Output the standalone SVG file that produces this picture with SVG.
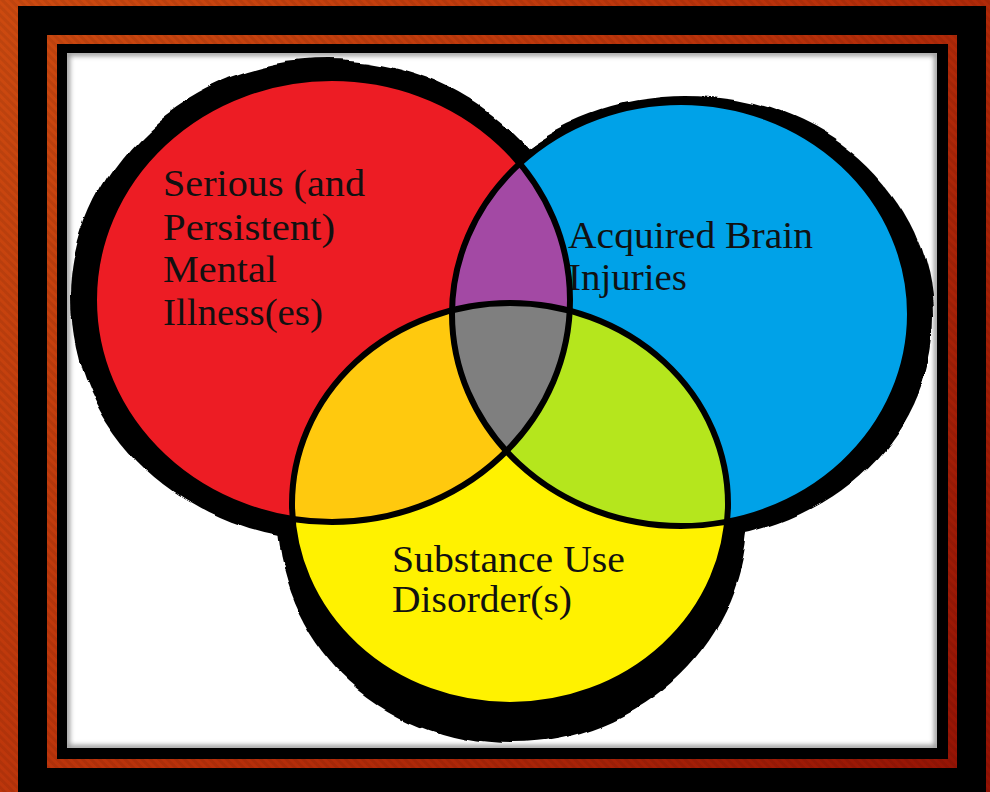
<svg xmlns="http://www.w3.org/2000/svg" width="990" height="792" viewBox="0 0 990 792">
  <defs>
    <linearGradient id="bgGrad" gradientUnits="userSpaceOnUse" x1="0" y1="0" x2="990" y2="792">
      <stop offset="0" stop-color="#cc4a10"/>
      <stop offset="0.5" stop-color="#b8300a"/>
      <stop offset="1" stop-color="#941204"/>
    </linearGradient>
    <pattern id="stripes" width="6" height="6" patternUnits="userSpaceOnUse" patternTransform="rotate(-45)">
      <rect x="0" y="0" width="3" height="6" fill="#000" opacity="0.07"/>
    </pattern>
    <filter id="rough" x="-10%" y="-10%" width="120%" height="120%">
      <feTurbulence type="fractalNoise" baseFrequency="0.012" numOctaves="2" seed="5"/>
      <feDisplacementMap in="SourceGraphic" scale="14" xChannelSelector="R" yChannelSelector="G"/>
    </filter>
    <filter id="blur3" x="-5%" y="-5%" width="110%" height="110%">
      <feGaussianBlur stdDeviation="2.5"/>
    </filter>
    <clipPath id="clipWhite"><rect x="67" y="53" width="870" height="695"/></clipPath>
    <clipPath id="clipRed"><ellipse cx="332" cy="300" rx="238" ry="222"/></clipPath>
    <clipPath id="clipBlue"><ellipse cx="681" cy="314" rx="229" ry="212"/></clipPath>
    <clipPath id="clipYellow"><ellipse cx="510" cy="504" rx="218" ry="201"/></clipPath>
    <style>
      .lbl { font-family: "Liberation Serif", "DejaVu Serif", serif; font-size: 37px; fill: #111; }
      .ol { fill: none; stroke: #000; stroke-width: 6; }
      .shadow { fill: #000; }
    </style>
  </defs>

  <g id="frame">
    <rect x="0" y="0" width="990" height="792" fill="url(#bgGrad)"/>
    <rect x="0" y="0" width="990" height="792" fill="url(#stripes)"/>
    <rect x="18" y="6" width="968" height="800" fill="#000"/>
    <rect x="47" y="35" width="910" height="733" fill="url(#bgGrad)"/>
    <rect x="47" y="35" width="910" height="733" fill="url(#stripes)"/>
    <rect x="57" y="44" width="891" height="715" fill="#000"/>
    <rect x="67" y="53" width="870" height="695" fill="#fff"/>
    <g clip-path="url(#clipWhite)">
      <rect x="67" y="53" width="870" height="695" fill="none" stroke="#999" stroke-width="6" filter="url(#blur3)"/>
    </g>
  </g>

  <g id="shadows" clip-path="url(#clipWhite)">
    <g filter="url(#rough)">
      <ellipse class="shadow" cx="328" cy="300" rx="258" ry="241"/>
      <ellipse class="shadow" cx="685" cy="318" rx="248" ry="222"/>
      <ellipse class="shadow" cx="511" cy="510" rx="237" ry="233"/>
    </g>
  </g>

  <g id="set-mental-illness">
    <ellipse cx="332" cy="300" rx="238" ry="222" fill="#ed1c24"/>
  </g>
  <g id="set-brain-injuries">
    <ellipse cx="681" cy="314" rx="229" ry="212" fill="#00a2e8"/>
  </g>
  <g id="set-substance-use">
    <ellipse cx="510" cy="504" rx="218" ry="201" fill="#fff200"/>
  </g>

  <g id="overlap-red-blue" clip-path="url(#clipRed)">
    <ellipse cx="681" cy="314" rx="229" ry="212" fill="#a349a4"/>
  </g>
  <g id="overlap-red-yellow" clip-path="url(#clipRed)">
    <ellipse cx="510" cy="504" rx="218" ry="201" fill="#ffc90e"/>
  </g>
  <g id="overlap-blue-yellow" clip-path="url(#clipBlue)">
    <ellipse cx="510" cy="504" rx="218" ry="201" fill="#b5e61d"/>
  </g>
  <g id="overlap-all" clip-path="url(#clipRed)">
    <g clip-path="url(#clipBlue)">
      <ellipse cx="510" cy="504" rx="218" ry="201" fill="#7f7f7f"/>
    </g>
  </g>

  <g id="labels">
    <text class="lbl" x="163" y="196" textLength="202" lengthAdjust="spacingAndGlyphs">Serious (and</text>
    <text class="lbl" x="163" y="240" textLength="172" lengthAdjust="spacingAndGlyphs">Persistent)</text>
    <text class="lbl" x="163" y="282" textLength="114" lengthAdjust="spacingAndGlyphs">Mental</text>
    <text class="lbl" x="163" y="325" textLength="160" lengthAdjust="spacingAndGlyphs">Illness(es)</text>
    <text class="lbl" x="568" y="248" textLength="245" lengthAdjust="spacingAndGlyphs">Acquired Brain</text>
    <text class="lbl" x="568" y="290" textLength="119" lengthAdjust="spacingAndGlyphs">Injuries</text>
    <text class="lbl" x="392" y="572" textLength="233" lengthAdjust="spacingAndGlyphs">Substance Use</text>
    <text class="lbl" x="392" y="612" textLength="180" lengthAdjust="spacingAndGlyphs">Disorder(s)</text>
  </g>

  <g id="outlines">
    <ellipse class="ol" cx="332" cy="300" rx="238" ry="222"/>
    <ellipse class="ol" cx="681" cy="314" rx="229" ry="212"/>
    <ellipse class="ol" cx="510" cy="504" rx="218" ry="201"/>
  </g>
</svg>
